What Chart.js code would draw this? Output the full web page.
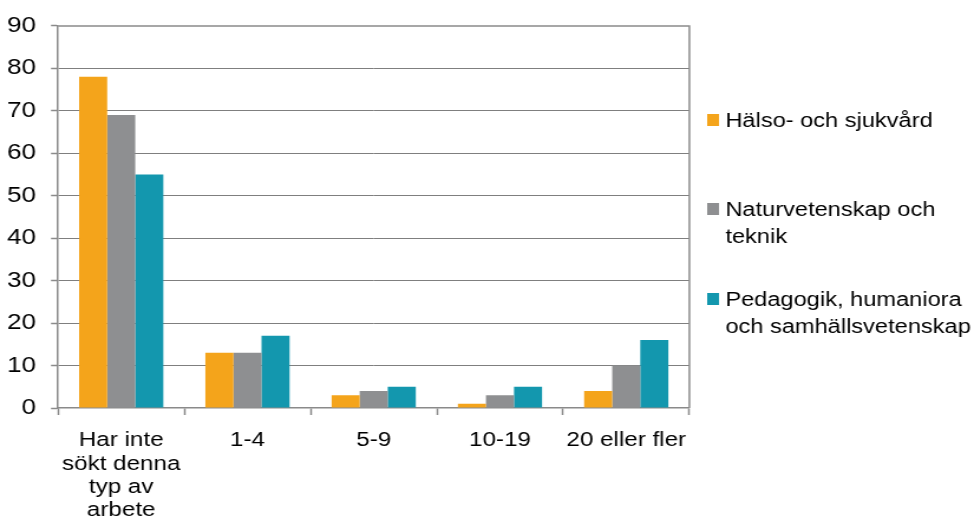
<!DOCTYPE html>
<html>
<head>
<meta charset="utf-8">
<script src="https://cdn.jsdelivr.net/npm/chart.js@4/dist/chart.umd.min.js"></script>
<style>
  html, body { margin: 0; padding: 0; background: #fff; overflow: hidden; }
  #wrap { width: 825px; height: 526px; transform: scaleX(1.1806); transform-origin: 0 0; }
  canvas { display: block; }
</style>
</head>
<body>
<div id="wrap"><canvas id="c" width="825" height="526"></canvas></div>
<script>
const categories = [
  ['Har inte', 'sökt denna', 'typ av', 'arbete'],
  '1-4',
  '5-9',
  '10-19',
  '20 eller fler'
];
const seriesNames = [
  ['Hälso- och sjukvård'],
  ['Naturvetenskap och', 'teknik'],
  ['Pedagogik, humaniora', 'och samhällsvetenskap']
];
const halsoOchSjukvard = [78, 13, 3, 1, 4];
const naturvetenskapOchTeknik = [69, 13, 4, 3, 10];
const pedagogikHumanioraSamhall = [55, 17, 5, 5, 16];
const yTicks = [0, 10, 20, 30, 40, 50, 60, 70, 80, 90];

const colors = ['#F4A41B', '#8E8F91', '#1397AE'];
const FONT = '"Liberation Sans", Arial, Helvetica, sans-serif';
const AXIS = '#8a8a8a';

const frameAndLegend = {
  id: 'frameAndLegend',
  afterDraw(chart) {
    const ctx = chart.ctx;
    const a = chart.chartArea;
    ctx.save();
    ctx.strokeStyle = AXIS;
    ctx.lineWidth = 1.5;
    ctx.beginPath();
    ctx.moveTo(a.left, a.top);
    ctx.lineTo(a.right, a.top);
    ctx.lineTo(a.right, a.bottom);
    ctx.stroke();

    // legend
    const lineCenters = [[120], [209, 236], [299, 326]];
    const sqX = 599, txtX = 614.4;
    ctx.font = '20px ' + FONT;
    ctx.textBaseline = 'middle';
    ctx.textAlign = 'left';
    chart.data.datasets.forEach((ds, i) => {
      const ys = lineCenters[i];
      ctx.fillStyle = ds.backgroundColor;
      ctx.fillRect(sqX, ys[0] - 6, 10, 12);
      ctx.fillStyle = '#000';
      seriesNames[i].forEach((t, j) => ctx.fillText(t, txtX, ys[j] + 1));
    });
    ctx.restore();
  }
};

new Chart(document.getElementById('c'), {
  type: 'bar',
  data: {
    labels: categories,
    datasets: [
      { label: seriesNames[0].join(' '), data: halsoOchSjukvard, backgroundColor: colors[0] },
      { label: seriesNames[1].join(' '), data: naturvetenskapOchTeknik, backgroundColor: colors[1] },
      { label: seriesNames[2].join(' '), data: pedagogikHumanioraSamhall, backgroundColor: colors[2] }
    ]
  },
  options: {
    responsive: false,
    animation: false,
    devicePixelRatio: 1,
    layout: { padding: { left: 0, top: 22, right: 241.1, bottom: 0 } },
    datasets: { bar: { categoryPercentage: 0.667, barPercentage: 1.0 } },
    plugins: { legend: { display: false }, tooltip: { enabled: false }, title: { display: false } },
    scales: {
      x: {
        offset: true,
        grid: {
          offset: true,
          display: true,
          drawOnChartArea: false,
          drawTicks: true,
          tickLength: 7,
          tickColor: AXIS,
          tickWidth: 1.5
        },
        border: { display: true, color: AXIS, width: 1.5 },
        ticks: {
          color: '#000',
          font: { family: FONT, size: 20.5, lineHeight: 1.14 },
          padding: 14,
          maxRotation: 0,
          minRotation: 0,
          autoSkip: false
        },
        afterFit(scale) { scale.height = 118; }
      },
      y: {
        min: 0,
        max: 90,
        afterBuildTicks(scale) { scale.ticks = yTicks.map(v => ({ value: v })); },
        grid: {
          color: (c) => (c.tick && (c.tick.value === 0 || c.tick.value === 90)) ? 'rgba(0,0,0,0)' : '#7f7f7f',
          lineWidth: 1,
          borderDash: [3, 2],
          drawTicks: true,
          tickLength: 6,
          tickColor: AXIS,
          tickWidth: 1.5,
          tickBorderDash: []
        },
        border: { display: true, color: AXIS, width: 1.5 },
        ticks: {
          color: '#000',
          font: { family: FONT, size: 22 },
          padding: 12.7
        },
        afterFit(scale) { scale.width = 49.2; }
      }
    }
  },
  plugins: [frameAndLegend]
});
</script>
</body>
</html>
